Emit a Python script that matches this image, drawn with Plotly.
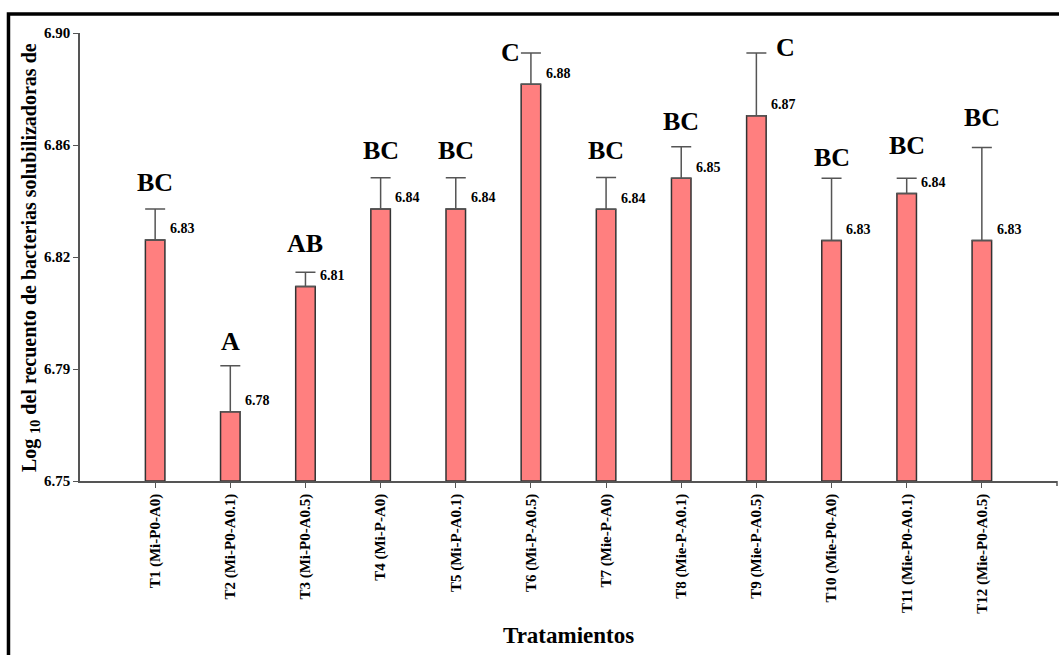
import plotly.graph_objects as go

categories = ["T1 (Mi-P0-A0)", "T2 (Mi-P0-A0.1)", "T3 (Mi-P0-A0.5)", "T4 (Mi-P-A0)",
              "T5 (Mi-P-A0.1)", "T6 (Mi-P-A0.5)", "T7 (Mie-P-A0)", "T8 (Mie-P-A0.1)",
              "T9 (Mie-P-A0.5)", "T10 (Mie-P0-A0)", "T11 (Mie-P0-A0.1)", "T12 (Mie-P0-A0.5)"]
means = [6.8307, 6.7732, 6.8151, 6.8411, 6.8411, 6.8828, 6.8410, 6.8514,
         6.8723, 6.8305, 6.8463, 6.8305]
errors = [0.0104, 0.0154, 0.0048, 0.0104, 0.0104, 0.0105, 0.0106, 0.0105,
          0.0210, 0.0209, 0.0051, 0.0312]
value_labels = ["6.83", "6.78", "6.81", "6.84", "6.84", "6.88", "6.84", "6.85",
                "6.87", "6.83", "6.84", "6.83"]
letters = ["BC", "A", "AB", "BC", "BC", "C", "BC", "BC", "C", "BC", "BC", "BC"]
ytick_vals = [6.75, 6.7875, 6.825, 6.8625, 6.90]
ytick_text = ["6.75", "6.79", "6.82", "6.86", "6.90"]

# letter placement offsets (pixels): (xshift, yshift)
letter_shift = [(0, 26), (0, 24), (0, 29), (0, 27), (0, 27), (-20, 1), (0, 27), (0, 25),
                (29, 6), (0, 21), (0, 33), (0, 30)]

FONT = "Liberation Serif"
xs = list(range(len(categories)))
BW = 0.26

fig = go.Figure()
fig.add_trace(go.Bar(
    x=xs, y=[m - 6.75 for m in means], base=6.75, width=BW,
    marker=dict(color="#FF7F7F", line=dict(color="#333333", width=1.5)),
    error_y=dict(type="data", symmetric=False, array=errors, arrayminus=[0] * len(errors),
                 color="#555555", thickness=1.5, width=10),
    showlegend=False, hoverinfo="skip",
))

anns = []
for i, (m, e, vl, lt) in enumerate(zip(means, errors, value_labels, letters)):
    anns.append(dict(x=i + BW / 2, y=m, xref="x", yref="y", text=vl, showarrow=False,
                     xanchor="left", yanchor="middle", xshift=3, yshift=11,
                     font=dict(family=FONT, size=14, color="black", weight="bold")))
    xsft, ysft = letter_shift[i]
    anns.append(dict(x=i, y=m + e, xref="x", yref="y", text=lt, showarrow=False,
                     xanchor="center", yanchor="middle", xshift=xsft, yshift=ysft,
                     font=dict(family=FONT, size=26, color="black", weight="bold")))

anns.append(dict(x=-0.0512, y=0.5, xref="paper", yref="paper", textangle=-90,
                 text="Log <sub>10</sub> del recuento de bacterias solubilizadoras de",
                 showarrow=False, xanchor="center", yanchor="middle",
                 font=dict(family=FONT, size=20, color="black", weight="bold")))
anns.append(dict(x=0.5, y=-0.3438, xref="paper", yref="paper", text="Tratamientos",
                 showarrow=False, xanchor="center", yanchor="middle",
                 font=dict(family=FONT, size=23, color="black", weight="bold")))

fig.update_layout(
    width=1059, height=655,
    margin=dict(l=80, r=2, t=33, b=174),
    plot_bgcolor="white", paper_bgcolor="white",
    annotations=anns,
    shapes=[dict(type="rect", xref="paper", yref="paper", x0=-0.0732, x1=1.2,
                 y0=-0.6, y1=1.0424, line=dict(color="black", width=3.5),
                 fillcolor="rgba(0,0,0,0)", layer="above"),
            dict(type="line", xref="paper", yref="paper", x0=1, x1=1, y0=0, y1=-0.0112,
                 line=dict(color="#555555", width=1.5))],
    xaxis=dict(range=[-1, 12], tickvals=xs, ticktext=categories,
               tickangle=-90, ticks="outside", ticklen=5, tickcolor="#555555",
               showline=True, linecolor="#555555", linewidth=1.5, showgrid=False,
               zeroline=False,
               tickfont=dict(family=FONT, size=15, color="black", weight="bold")),
    yaxis=dict(range=[6.75, 6.90], tickvals=ytick_vals, ticktext=ytick_text,
               ticks="outside", ticklen=5, tickcolor="#555555",
               showline=True, linecolor="#555555", linewidth=1.5, showgrid=False,
               zeroline=False,
               tickfont=dict(family=FONT, size=15, color="black", weight="bold")),
)

fig.write_html("out.html")
